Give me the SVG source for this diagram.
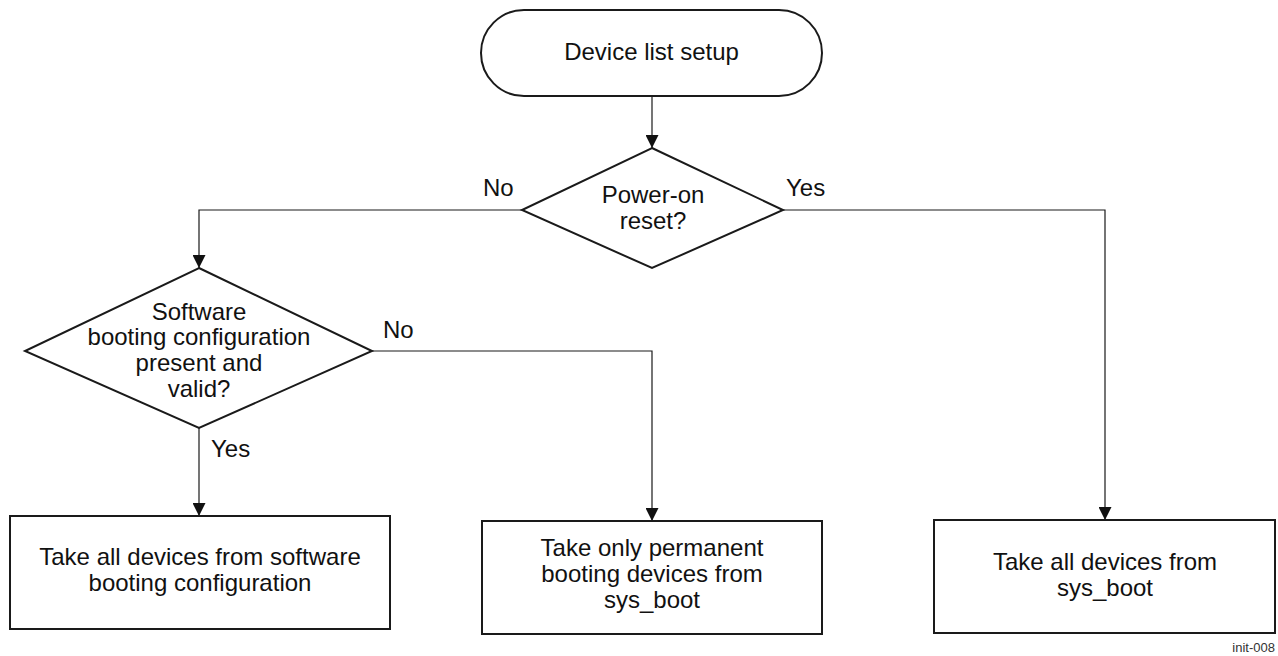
<svg xmlns="http://www.w3.org/2000/svg" width="1278" height="656" viewBox="0 0 1278 656">
<style>
  .shape { fill: #ffffff; stroke: #1a1a1a; stroke-width: 2; }
  .conn { fill: none; stroke: #1a1a1a; stroke-width: 1.2; }
  text { font-family: "Liberation Sans", Arial, sans-serif; font-size: 24px; fill: #111111; }
  .c { text-anchor: middle; }
  .small { font-size: 13px; fill: #333333; }
</style>
<defs>
  <marker id="arrow" markerUnits="userSpaceOnUse" markerWidth="13" markerHeight="13" refX="13" refY="6.5" orient="auto">
    <path d="M0,0 L13,6.5 L0,13 z" fill="#111111"/>
  </marker>
</defs>
<rect width="1278" height="656" fill="#ffffff"/>
<g id="connectors">
  <path class="conn" d="M652,97 V148" marker-end="url(#arrow)"/>
  <path class="conn" d="M522,210 H199 V268" marker-end="url(#arrow)"/>
  <path class="conn" d="M783,210 H1105 V520" marker-end="url(#arrow)"/>
  <path class="conn" d="M372,351 H652 V521" marker-end="url(#arrow)"/>
  <path class="conn" d="M199,428 V516" marker-end="url(#arrow)"/>
</g>
<g id="labels">
  <text x="483" y="196">No</text>
  <text x="786" y="196">Yes</text>
  <text x="383" y="338">No</text>
  <text x="211" y="457">Yes</text>
</g>
<g id="start">
  <rect class="shape" x="481" y="10" width="341" height="86" rx="43" ry="43"/>
  <text class="c" x="651.5" y="60">Device list setup</text>
</g>
<g id="decision-power">
  <polygon class="shape" points="652,148 783,210 652,268 522,210"/>
  <text class="c" x="653" y="203">Power-on</text>
  <text class="c" x="653" y="229">reset?</text>
</g>
<g id="decision-software">
  <polygon class="shape" points="199,268 372,351 199,428 25,351"/>
  <text class="c" x="199" y="320">Software</text>
  <text class="c" x="199" y="345">booting configuration</text>
  <text class="c" x="199" y="371">present and</text>
  <text class="c" x="199" y="397">valid?</text>
</g>
<g id="box-software">
  <rect class="shape" x="10" y="516" width="380" height="113"/>
  <text class="c" x="200" y="565">Take all devices from software</text>
  <text class="c" x="200" y="591">booting configuration</text>
</g>
<g id="box-permanent">
  <rect class="shape" x="482" y="521" width="340" height="113"/>
  <text class="c" x="652" y="556">Take only permanent</text>
  <text class="c" x="652" y="582">booting devices from</text>
  <text class="c" x="652" y="608">sys_boot</text>
</g>
<g id="box-sysboot">
  <rect class="shape" x="934" y="520" width="341" height="113"/>
  <text class="c" x="1105" y="570">Take all devices from</text>
  <text class="c" x="1105" y="596">sys_boot</text>
</g>
<text class="small" x="1275" y="652" text-anchor="end">init-008</text>
</svg>
